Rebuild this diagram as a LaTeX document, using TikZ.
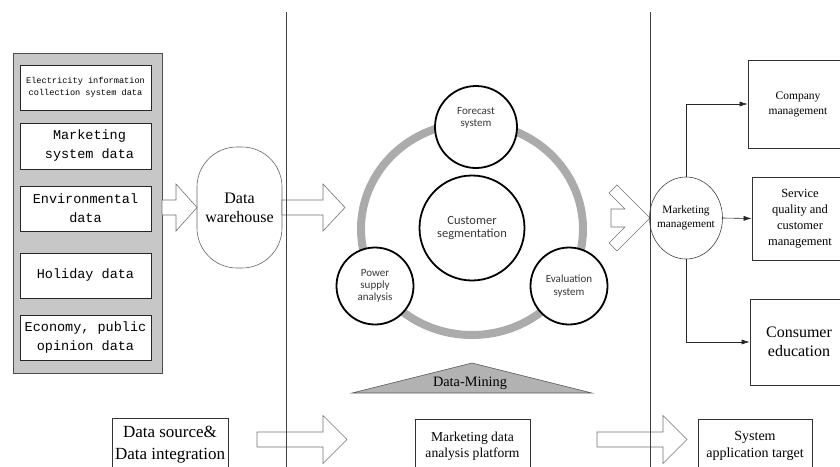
\documentclass[tikz,border=0pt]{standalone}
\usepackage{fontspec}
\setmainfont{Liberation Serif}
\newfontfamily\monofont{Liberation Mono}
\newfontfamily\calfont{Carlito}
\usetikzlibrary{shapes.geometric,arrows.meta}

% hollow block arrow: tail x, head base x, tip x, axis y, half body, half head
\newcommand{\blkarrow}[6]{%
  \draw[blockarr] (#1,#4-#5) -- (#2,#4-#5) -- (#2,#4-#6) -- (#3,#4)
    -- (#2,#4+#6) -- (#2,#4+#5) -- (#1,#4+#5) -- cycle;}

\begin{document}
\begin{tikzpicture}[x=1pt,y=-1pt,
  panel/.style={draw=black!70, fill=black!22, line width=0.7pt, inner sep=0pt},
  srcbox/.style={draw=black!85, fill=white, line width=0.8pt, minimum width=131pt,
    minimum height=45pt, inner sep=0pt, align=center,
    font=\monofont\fontsize{13.5}{19}\selectfont},
  blockarr/.style={draw=black!55, fill=white, line width=0.6pt, line join=miter},
  bub/.style={circle, draw=black, line width=1.8pt, fill=white, inner sep=0pt,
    align=center, text=black!78},
  ringline/.style={draw=black!33, line width=8pt},
  tgt/.style={draw=black!80, line width=0.7pt, fill=white, inner sep=0pt, align=center},
  conn/.style={draw=black!85, line width=0.6pt, -{Latex[length=8pt,width=5pt]}},
  divider/.style={draw=black!75, line width=0.6pt}
]
\useasboundingbox (0,0) rectangle (840,466);
\clip (0,0) rectangle (840,466);

% ---- data sources ----
\node[panel, minimum width=149pt, minimum height=320pt] (panel) at (87.5,213) {};
\node[srcbox, font=\monofont\fontsize{8.6}{12}\selectfont] (s1) at (85.5,87.5)
  {Electricity information\\collection system data};
\node[srcbox, minimum height=46pt] (s2) at (85.5,146) {\hspace*{8pt}Marketing\\\hspace*{8pt}system data};
\node[srcbox] (s3) at (85.5,208.5) {Environmental\\data};
\node[srcbox] (s4) at (85.5,275.5) {Holiday data};
\node[srcbox] (s5) at (85.5,337.5) {Economy, public\\opinion data};

\node[draw=black!60, line width=0.6pt, fill=white, rounded corners=40pt,
  minimum width=85pt, minimum height=121pt, inner sep=0pt, align=center,
  font=\fontsize{16}{19}\selectfont] (dw) at (239.5,207.5) {Data\\warehouse};

\blkarrow{162}{176}{197}{207.5}{7.5}{23.5}
\blkarrow{282}{323}{345}{207.5}{7.5}{23.5}

% ---- data mining cycle ----
\draw[ringline] (472,229) ellipse [x radius=111pt, y radius=106pt];
\node[bub, minimum size=105pt, font=\calfont\fontsize{12.5}{13}\selectfont]
  (cs) at (472,228) {Customer\\segmentation};
\node[bub, minimum size=82pt] (fc) at (476,127) {};
\node[align=center, text=black!78, inner sep=0pt, font=\calfont\fontsize{11}{12}\selectfont]
  (fctext) at (476,118) {Forecast\\system};
\node[bub, minimum size=77pt, font=\calfont\fontsize{11}{12}\selectfont]
  (ps) at (375,286) {Power\\supply\\analysis};
\node[bub, minimum size=77pt, font=\calfont\fontsize{11}{13}\selectfont]
  (es) at (569,286) {Evaluation\\system};

\draw[draw=black!65, fill=black!30, line width=0.6pt] (352,393) -- (472,363) -- (592,393) -- cycle;
\node[inner sep=0pt, font=\fontsize{14.3}{16}\selectfont] (dm) at (470,383) {Data-Mining};

% ---- marketing management ----
\draw[blockarr] (609,193) -- (617,185) -- (650,218) -- (617,251) -- (609,243)
  -- (625,227) -- (611,227) -- (611,209) -- (625,209) -- cycle;
\node[ellipse, draw=black!75, line width=0.6pt, fill=white, minimum width=73pt,
  minimum height=82pt, inner sep=0pt] (mm) at (686,218) {};
\node[align=center, inner sep=0pt, font=\fontsize{11.3}{14}\selectfont]
  (mmtext) at (686,218) {Marketing\\management};

\node[tgt, minimum width=100pt, minimum height=88pt, font=\fontsize{11.5}{15}\selectfont]
  (ca) at (798,104) {Company\\management};
\node[tgt, minimum width=96pt, minimum height=83pt, font=\fontsize{12.5}{16}\selectfont]
  (cb) at (800,218.5) {Service\\quality and\\customer\\management};
\node[tgt, minimum width=98pt, minimum height=86pt, font=\fontsize{16}{19.5}\selectfont]
  (cc) at (799,342) {Consumer\\education};

\draw[conn] (mm.north) |- (ca.west);
\draw[conn] (mm.east) -- (cb.west);
\draw[conn] (mm.south) |- (cc.west);

% ---- bottom stage labels ----
\node[tgt, minimum width=116pt, minimum height=54pt, font=\fontsize{17}{22}\selectfont]
  (dsrc) at (170,445) {Data source\&\\Data integration};
\node[tgt, minimum width=115pt, minimum height=54pt, font=\fontsize{13.6}{16.5}\selectfont]
  (mdap) at (472.5,446) {Marketing data\\analysis platform};
\node[tgt, minimum width=114pt, minimum height=54pt, font=\fontsize{14}{16.5}\selectfont]
  (sat) at (755,446) {System\\application target};

\blkarrow{257}{323}{347}{439.5}{7.5}{24}
\blkarrow{597}{663}{687}{439.5}{7.5}{24}

% ---- stage dividers ----
\draw[divider] (286,12) -- (286,470);
\draw[divider] (650,12) -- (650,470);
\end{tikzpicture}
\end{document}
